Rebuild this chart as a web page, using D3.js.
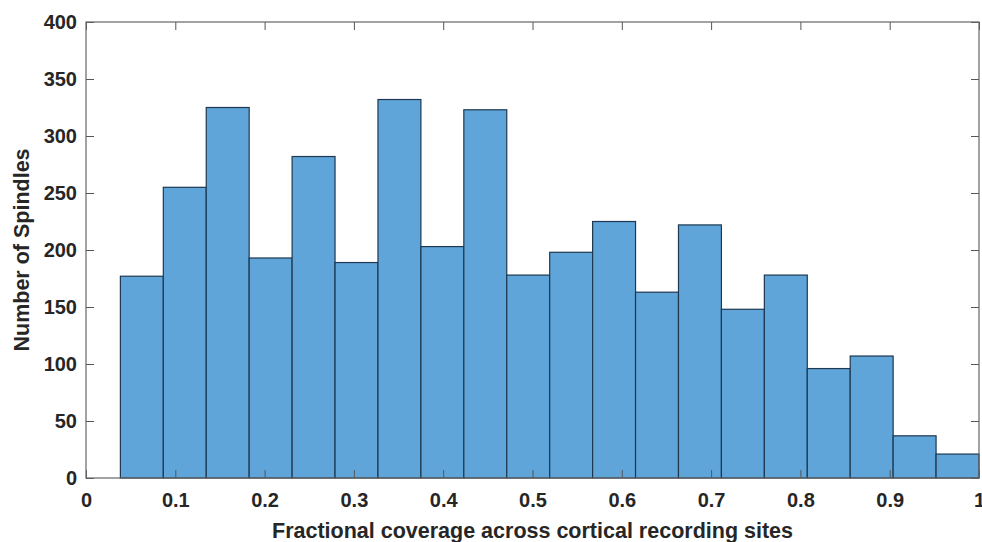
<!DOCTYPE html>
<html lang="en">
<head>
  <meta charset="UTF-8">
  <title>Fractional coverage histogram</title>
  <style>
    body {
      margin: 0;
      background: #fff;
      font-family: "Liberation Sans", Arial, sans-serif;
    }
    svg {
      display: block;
    }
    .tick text {
      font-size: 20px;
      font-weight: bold;
      fill: #262626;
    }
    .label {
      font-size: 21.5px;
      font-weight: bold;
      fill: #262626;
    }
  </style>
  <script src="https://d3js.org/d3.v7.min.js"></script>
</head>
<body>

<svg width="982" height="542"></svg>

<script>
  // histogram counts per bin
  const counts = [177, 255, 325, 193, 282, 189, 332, 203, 323, 178,
                  198, 225, 163, 222, 148, 178, 96, 107, 37, 21];
  // bin range: bins span binLo..binHi evenly
  const binLo = 0.0385;
  const binHi = 1.0;
  const xTicks = [0, 0.1, 0.2, 0.3, 0.4, 0.5, 0.6, 0.7, 0.8, 0.9, 1];
  const yTicks = [0, 50, 100, 150, 200, 250, 300, 350, 400];

  const svg = d3.select("svg");
  const margin = {top: 22, right: 3, bottom: 64, left: 86};
  const width = +svg.attr("width") - margin.left - margin.right,
        height = +svg.attr("height") - margin.top - margin.bottom;

  const x = d3.scaleLinear().domain([0, 1]).range([0, width]);
  const y = d3.scaleLinear().domain([0, 400]).range([height, 0]);

  const binW = (binHi - binLo) / counts.length;
  const bins = counts.map((c, i) => ({x0: binLo + i * binW, x1: binLo + (i + 1) * binW, n: c}));

  const g = svg.append("g")
    .attr("transform", `translate(${margin.left},${margin.top})`);

  // bars
  g.selectAll("rect.bar")
    .data(bins)
    .enter().append("rect")
      .attr("class", "bar")
      .attr("x", d => x(d.x0))
      .attr("y", d => y(d.n))
      .attr("width", d => x(d.x1) - x(d.x0))
      .attr("height", d => y(0) - y(d.n))
      .attr("fill", "#5fa5d9")
      .attr("stroke", "#1d3850")
      .attr("stroke-width", 1.2);

  // axes, ticks inward like matlab
  const fmt = d => d === 0 || d === 1 ? d3.format("d")(d) : d3.format(".1f")(d);

  g.append("g")
    .attr("transform", `translate(0,${height})`)
    .call(d3.axisBottom(x).tickValues(xTicks).tickFormat(fmt)
      .tickSizeInner(-8).tickSizeOuter(0).tickPadding(15));

  g.append("g")
    .call(d3.axisTop(x).tickValues(xTicks).tickFormat("")
      .tickSizeInner(-8).tickSizeOuter(0));

  g.append("g")
    .call(d3.axisLeft(y).tickValues(yTicks)
      .tickSizeInner(-8).tickSizeOuter(0).tickPadding(9));

  g.append("g")
    .attr("transform", `translate(${width},0)`)
    .call(d3.axisRight(y).tickValues(yTicks).tickFormat("")
      .tickSizeInner(-8).tickSizeOuter(0));

  g.selectAll(".domain").remove();
  g.selectAll(".tick line").attr("stroke", "#555");

  // box
  g.append("rect")
    .attr("width", width)
    .attr("height", height)
    .attr("fill", "none")
    .attr("stroke", "#666")
    .attr("stroke-width", 1.2);

  // axis labels
  svg.append("text")
    .attr("class", "label")
    .attr("text-anchor", "middle")
    .attr("x", margin.left + width / 2)
    .attr("y", 538)
    .text("Fractional coverage across cortical recording sites");

  svg.append("text")
    .attr("class", "label")
    .attr("text-anchor", "middle")
    .attr("transform", `translate(29,${margin.top + height / 2}) rotate(-90)`)
    .text("Number of Spindles");
</script>

</body>
</html>
